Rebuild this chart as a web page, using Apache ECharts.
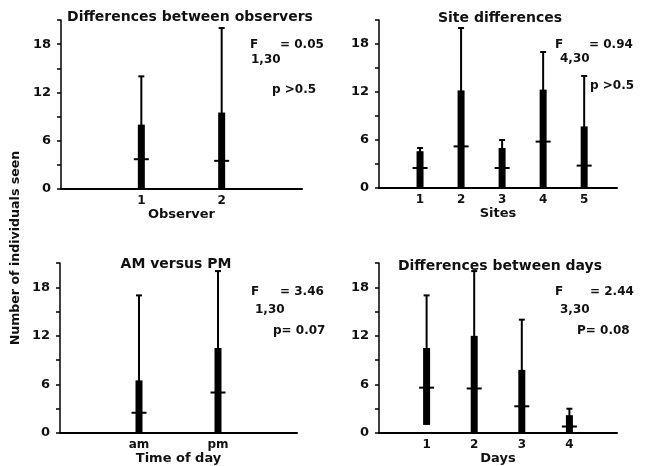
<!DOCTYPE html>
<html>
<head>
<meta charset="utf-8">
<script src="https://cdn.jsdelivr.net/npm/echarts@6/dist/echarts.min.js"></script>
<style>
  html, body { margin: 0; padding: 0; background: #fff; }
  #chart { width: 663px; height: 466px; }
</style>
</head>
<body>
<div id="chart"></div>
<script>
// observers
const obsCats = ['1', '2']
const obsMin = [0, 0]
const obsMax = [14, 20]
const obsLow = [0, 0]
const obsHigh = [8, 9.5]
const obsMed = [3.7, 3.5]

// sites
const siteCats = ['1', '2', '3', '4', '5']
const siteMin = [0, 0, 0, 0, 0]
const siteMax = [5, 20, 6, 17, 14]
const siteLow = [0, 0, 0, 0, 0]
const siteHigh = [4.6, 12.2, 5, 12.3, 7.7]
const siteMed = [2.5, 5.2, 2.5, 5.8, 2.8]

// time of day
const timeCats = ['am', 'pm']
const timeMin = [0, 0]
const timeMax = [17, 20]
const timeLow = [0, 0]
const timeHigh = [6.5, 10.5]
const timeMed = [2.5, 5]

// days
const dayCats = ['1', '2', '3', '4']
const dayMin = [1, 0, 0, 0]
const dayMax = [17, 20, 14, 3]
const dayLow = [1, 0, 0, 0]
const dayHigh = [10.5, 12, 7.8, 2.2]
const dayMed = [5.6, 5.5, 3.3, 0.8]

const yTicks = [0, 6, 12, 18]

const font = 'DejaVu Sans, Liberation Sans, sans-serif'

function toData(min, max, low, high, med) {
  return min.map((v, i) => [i + 1, v, max[i], low[i], high[i], med[i]])
}

function renderBox(params, api) {
  const x = api.value(0)
  const pMin = api.coord([x, api.value(1)])
  const pMax = api.coord([x, api.value(2)])
  const pLo = api.coord([x, api.value(3)])
  const pHi = api.coord([x, api.value(4)])
  const pMed = api.coord([x, api.value(5)])
  const black = { stroke: '#000', lineWidth: 2 }
  return {
    type: 'group',
    children: [
      { type: 'line', shape: { x1: pMin[0], y1: pMin[1], x2: pMax[0], y2: pMax[1] }, style: black },
      { type: 'line', shape: { x1: pMax[0] - 3, y1: pMax[1], x2: pMax[0] + 3, y2: pMax[1] }, style: black },
      { type: 'rect', shape: { x: pHi[0] - 3.5, y: pHi[1], width: 7, height: pLo[1] - pHi[1] }, style: { fill: '#000' } },
      { type: 'line', shape: { x1: pMed[0] - 7.5, y1: pMed[1], x2: pMed[0] + 7.5, y2: pMed[1] }, style: black }
    ]
  }
}

const grids = [
  { left: 61, top: 20, width: 241, height: 169 },
  { left: 379, top: 20, width: 238, height: 168 },
  { left: 60, top: 263, width: 237, height: 170 },
  { left: 379, top: 263, width: 238, height: 170 }
]

const panels = [
  { cats: obsCats, max: 3, name: 'Observer', data: toData(obsMin, obsMax, obsLow, obsHigh, obsMed) },
  { cats: siteCats, max: 5.8, name: 'Sites', data: toData(siteMin, siteMax, siteLow, siteHigh, siteMed) },
  { cats: timeCats, max: 3, name: 'Time of day', data: toData(timeMin, timeMax, timeLow, timeHigh, timeMed) },
  { cats: dayCats, max: 5, name: 'Days', data: toData(dayMin, dayMax, dayLow, dayHigh, dayMed) }
]

const labelStyle = { color: '#111', fontFamily: font, fontWeight: 'bold', fontSize: 12 }

const xAxes = panels.map((p, i) => ({
  type: 'value',
  gridIndex: i,
  min: 0,
  max: p.max,
  interval: 1,
  splitLine: { show: false },
  axisTick: { show: false },
  axisLine: { show: true, onZero: false, lineStyle: { color: '#000', width: 2 } },
  axisLabel: Object.assign({
    margin: 6,
    showMaxLabel: false,
    formatter: v => (Number.isInteger(v) && v >= 1 && v <= p.cats.length) ? p.cats[v - 1] : ''
  }, labelStyle),
  name: p.name,
  nameLocation: 'middle',
  nameGap: 19,
  nameTextStyle: Object.assign({}, labelStyle, { fontSize: 13 })
}))

const yAxes = panels.map((p, i) => ({
  type: 'value',
  gridIndex: i,
  min: 0,
  max: 21,
  interval: 3,
  splitLine: { show: false },
  axisTick: { show: true, length: 4, lineStyle: { color: '#000', width: 1.5 } },
  axisLine: { show: true, lineStyle: { color: '#000', width: 1.5 } },
  axisLabel: Object.assign({
    margin: 10,
    formatter: v => yTicks.includes(v) ? String(v) : ''
  }, labelStyle, { fontSize: 13 })
}))

const series = panels.map((p, i) => ({
  type: 'custom',
  xAxisIndex: i,
  yAxisIndex: i,
  renderItem: renderBox,
  data: p.data
}))

function txt(x, y, s, size, align) {
  return {
    type: 'text',
    x: x,
    y: y,
    style: {
      text: s,
      fill: '#111',
      font: 'bold ' + (size || 12) + 'px ' + font,
      textAlign: align || 'left',
      textVerticalAlign: 'middle'
    }
  }
}

const graphics = [
  txt(190, 17, 'Differences between observers', 14, 'center'),
  txt(250, 45, 'F'),
  txt(280, 45, '= 0.05'),
  txt(251, 60, '1,30'),
  txt(272, 90, 'p >0.5'),

  txt(500, 18, 'Site differences', 14, 'center'),
  txt(555, 45, 'F'),
  txt(589, 45, '= 0.94'),
  txt(560, 59, '4,30'),
  txt(590, 86, 'p >0.5'),

  txt(176, 264, 'AM versus PM', 14, 'center'),
  txt(251, 292, 'F'),
  txt(280, 292, '= 3.46'),
  txt(255, 310, '1,30'),
  txt(273, 331, 'p= 0.07'),

  txt(500, 266, 'Differences between days', 14, 'center'),
  txt(555, 292, 'F'),
  txt(590, 292, '= 2.44'),
  txt(560, 310, '3,30'),
  txt(577, 331, 'P= 0.08'),

  {
    type: 'text',
    x: 16,
    y: 248,
    rotation: Math.PI / 2,
    style: {
      text: 'Number of individuals seen',
      fill: '#111',
      font: 'bold 12.6px ' + font,
      textAlign: 'center',
      textVerticalAlign: 'middle'
    }
  }
]

const chart = echarts.init(document.getElementById('chart'))
chart.setOption({
  animation: false,
  backgroundColor: '#fff',
  grid: grids,
  xAxis: xAxes,
  yAxis: yAxes,
  series: series,
  graphic: graphics
})
</script>
</body>
</html>
